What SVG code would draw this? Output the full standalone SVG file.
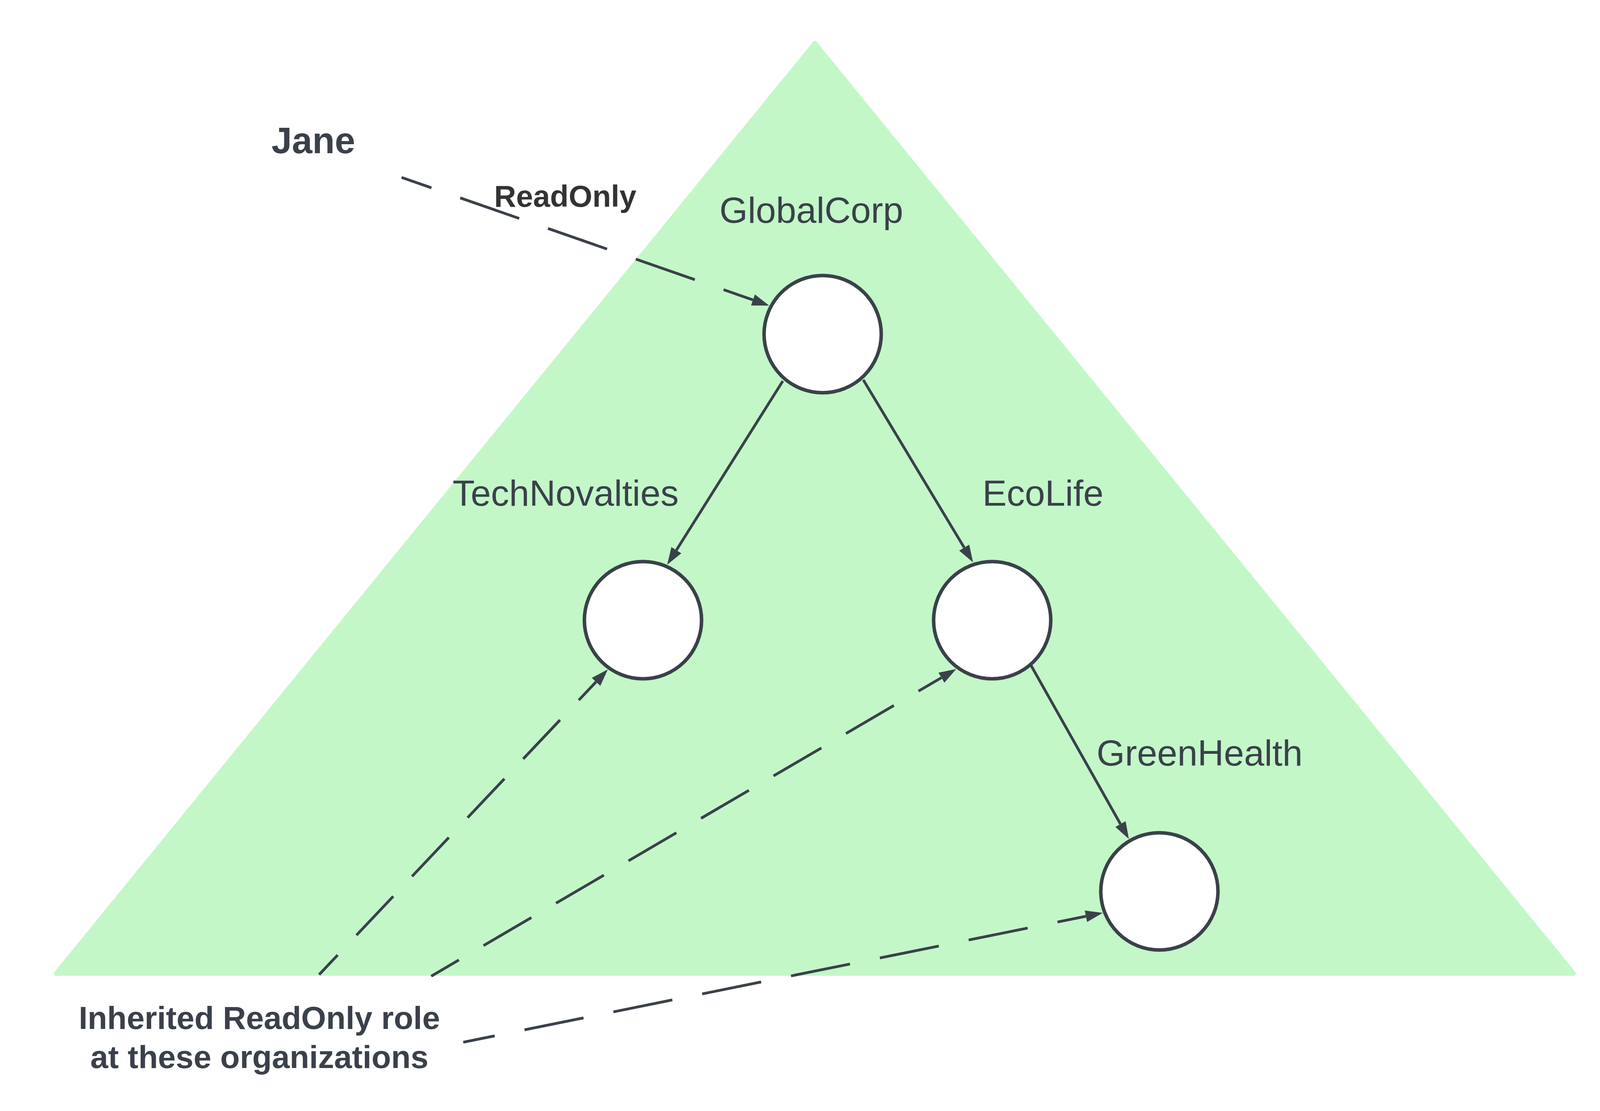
<svg xmlns="http://www.w3.org/2000/svg" width="4164" height="2843" viewBox="0 0 4164 2843">
<style>
.bg{fill:#ffffff}
.tri{fill:#c3f7c8;stroke:#c3f7c8;stroke-width:12;stroke-linejoin:round}
.org{fill:#ffffff;stroke:#3a414a;stroke-width:9}
.edge{fill:none;stroke:#3a414a;stroke-width:7}
.lbl{font-family:"Liberation Sans",Arial,sans-serif;font-size:93px;fill:#3a414a;text-anchor:middle}
.bold{font-family:"Liberation Sans",Arial,sans-serif;font-weight:bold;fill:#3a414a}
</style>
<defs>
<marker id="ah" viewBox="0 0 44 30" refX="0" refY="15" markerWidth="44" markerHeight="30" markerUnits="userSpaceOnUse" orient="auto">
<path d="M0,0 L44,15 L0,30 Z" fill="#3a414a"/>
</marker>
</defs>
<rect class="bg" x="0" y="0" width="4164" height="2843"/>
<polygon id="hierarchy" class="tri" points="2086,111 4028,2491 144,2491"/>
<g id="connectors">
<path class="edge" d="M1028,454 L1927.5,767.5" stroke-dasharray="160 78" stroke-dashoffset="79" marker-end="url(#ah)"/>
<path class="edge" d="M2004,975 L1731.5,1407.8" marker-end="url(#ah)"/>
<path class="edge" d="M2210,972 L2468.3,1401.3" marker-end="url(#ah)"/>
<path class="edge" d="M2639,1702 L2868.4,2108.7" marker-end="url(#ah)"/>
<path class="edge" d="M817,2494 L1525.8,1745" stroke-dasharray="137 70" stroke-dashoffset="68" marker-end="url(#ah)"/>
<path class="edge" d="M1104,2498 L2410,1734.2" stroke-dasharray="142 73" stroke-dashoffset="60" marker-end="url(#ah)"/>
<path class="edge" d="M1186,2667 L2779.9,2344.7" stroke-dasharray="154 78" stroke-dashoffset="72" marker-end="url(#ah)"/>
</g>
<g id="jane">
<text class="bold" x="695" y="392" font-size="94">Jane</text>
</g>
<g id="readonly-label">
<text class="bold" x="1265" y="529" font-size="78" style="fill:#333333">ReadOnly</text>
</g>
<g id="globalcorp">
<text class="lbl" x="2077" y="570">GlobalCorp</text>
<circle class="org" cx="2106" cy="855" r="150"/>
</g>
<g id="technovalties">
<text class="lbl" x="1448" y="1294">TechNovalties</text>
<circle class="org" cx="1646" cy="1587" r="150"/>
</g>
<g id="ecolife">
<text class="lbl" x="2670" y="1294">EcoLife</text>
<circle class="org" cx="2540" cy="1587" r="150"/>
</g>
<g id="greenhealth">
<text class="lbl" x="3071" y="1959">GreenHealth</text>
<circle class="org" cx="2968" cy="2281" r="150"/>
</g>
<g id="inherited-note">
<text class="bold" font-size="82" text-anchor="middle"><tspan x="664" y="2633">Inherited ReadOnly role</tspan><tspan x="664" y="2733">at these organizations</tspan></text>
</g>
</svg>
